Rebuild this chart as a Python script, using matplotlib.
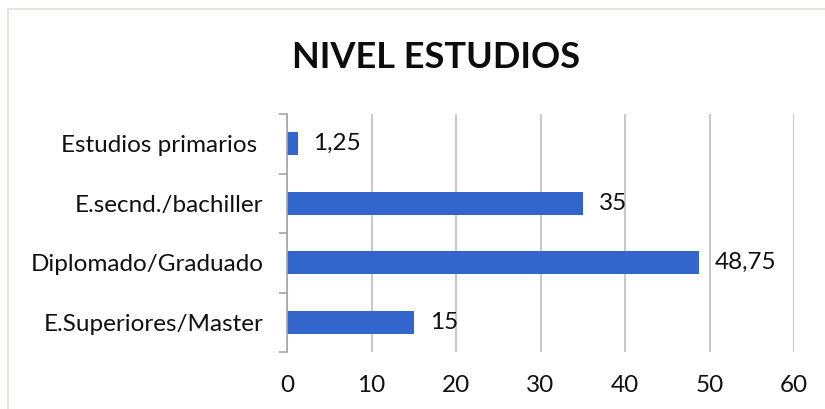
import matplotlib
matplotlib.use("Agg")
import matplotlib.pyplot as plt
from matplotlib.patches import Rectangle
import numpy as np

categories = ["E.Superiores/Master", "Diplomado/Graduado", "E.secnd./bachiller", "Estudios primarios "]
values = [15, 48.75, 35, 1.25]
value_labels = ["15", "48,75", "35", "1,25"]
xticks = [0, 10, 20, 30, 40, 50, 60]

plt.rcParams['font.family'] = ['Lato', 'DejaVu Sans']
FS = 17.5

fig = plt.figure(figsize=(8.25, 4.09), dpi=100)
ax = fig.add_axes([287/825, 1-352/409, (794-287)/825, (352-114)/409])

# chart border
fig.patches.append(Rectangle((8/825, -0.1), 1.2, 1 - 9/409 + 0.1, transform=fig.transFigure,
                             fill=False, edgecolor="#E6E4DC", linewidth=1.5))

y = np.arange(len(categories))
ax.barh(y, values, height=0.39, color="#3366CC", zorder=3)
for yi, v, lab in zip(y, values, value_labels):
    ax.annotate(lab, (v, yi), xytext=(11.5, 0), textcoords="offset points",
                va="center", ha="left", fontsize=FS, color="#111111")

ax.set_xlim(0, 60)
ax.set_ylim(-0.5, len(categories) - 0.5)
ax.set_xticks(xticks)
ax.set_xticklabels([str(t) for t in xticks], fontsize=FS, color="#111111")
ax.set_yticks(y)
ax.set_yticklabels(categories, fontsize=FS, color="#111111")
ax.set_yticks(np.arange(-0.5, len(categories), 1.0), minor=True)
ax.tick_params(axis="y", which="major", length=0, pad=17)
ax.tick_params(axis="y", which="minor", length=6, width=1.2, color="#A6A6A6", direction="out")
ax.tick_params(axis="x", length=0, pad=16.5)
ax.grid(axis="x", color="#C8C8C8", linewidth=1.5, zorder=0)
for s in ["top", "right", "bottom"]:
    ax.spines[s].set_visible(False)
ax.spines["left"].set_color("#A6A6A6")
ax.spines["left"].set_linewidth(1.2)
ax.spines["left"].set_zorder(4)

fig.text(436/825, 1-58/409, "NIVEL ESTUDIOS", ha="center", va="center",
         fontsize=26, fontweight="bold", color="#0d0d0d")

fig.savefig("out.png", dpi=100)
